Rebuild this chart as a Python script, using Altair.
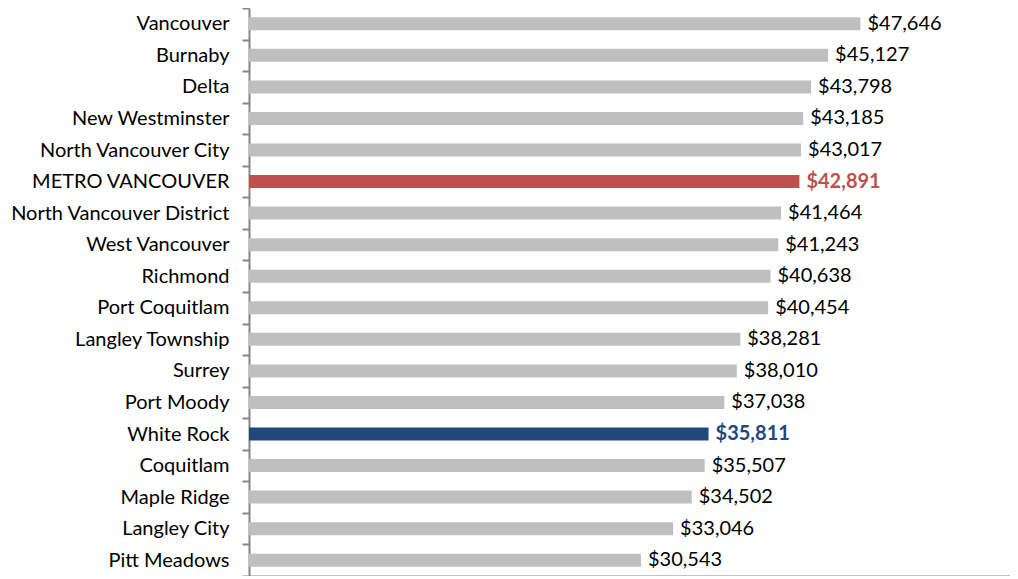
import altair as alt
import pandas as pd

cities = ["Vancouver", "Burnaby", "Delta", "New Westminster", "North Vancouver City",
          "METRO VANCOUVER", "North Vancouver District", "West Vancouver", "Richmond",
          "Port Coquitlam", "Langley Township", "Surrey", "Port Moody", "White Rock",
          "Coquitlam", "Maple Ridge", "Langley City", "Pitt Meadows"]
incomes = [47646, 45127, 43798, 43185, 43017, 42891, 41464, 41243, 40638,
           40454, 38281, 38010, 37038, 35811, 35507, 34502, 33046, 30543]
kinds = ["other"] * len(cities)
kinds[cities.index("METRO VANCOUVER")] = "metro"
kinds[cities.index("White Rock")] = "focus"

df = pd.DataFrame({"city": cities, "income": incomes, "kind": kinds})

FONT = "Lato"
FS = 20
color_scale = alt.Scale(domain=["other", "metro", "focus"],
                        range=["#BFBFBF", "#C0504D", "#1F497D"])
text_scale = alt.Scale(domain=["other", "metro", "focus"],
                       range=["#000000", "#C0504D", "#1F497D"])

y_enc = alt.Y("city:N", sort=cities, title=None,
              scale=alt.Scale(paddingInner=0, paddingOuter=0),
              axis=alt.Axis(tickBand="extent", domainColor="#868686", domainWidth=2,
                            tickColor="#868686", tickWidth=2, tickSize=7,
                            labelFont=FONT, labelFontSize=FS, labelColor="#000000",
                            labelPadding=13, labelLimit=300))
x_enc = alt.X("income:Q", title=None,
              scale=alt.Scale(domain=[0, 59300], nice=False),
              axis=alt.Axis(labels=False, ticks=False, grid=False,
                            domainColor="#868686", domainWidth=2))

bars = alt.Chart(df).mark_bar(size=13).encode(
    y=y_enc, x=x_enc,
    color=alt.Color("kind:N", scale=color_scale, legend=None),
)

text_normal = alt.Chart(df).transform_filter(alt.datum.kind == "other").mark_text(
    align="left", baseline="middle", dx=7, font=FONT, fontSize=FS, color="#000000"
).encode(y=alt.Y("city:N", sort=cities), x="income:Q",
         text=alt.Text("income:Q", format="$,"))

text_bold = alt.Chart(df).transform_filter(alt.datum.kind != "other").mark_text(
    align="left", baseline="middle", dx=7, font=FONT, fontSize=FS, fontWeight="bold"
).encode(y=alt.Y("city:N", sort=cities), x="income:Q",
         text=alt.Text("income:Q", format="$,"),
         color=alt.Color("kind:N", scale=text_scale, legend=None))

chart = alt.layer(bars, text_normal, text_bold).properties(
    width=761, height=568,
    autosize=alt.AutoSizeParams(type="none"),
    padding={"left": 241, "top": 0, "right": 0, "bottom": 0},
).configure(background="white").configure_view(stroke=None)

chart.save("out.html", embed_options={"renderer": "svg", "actions": False})
